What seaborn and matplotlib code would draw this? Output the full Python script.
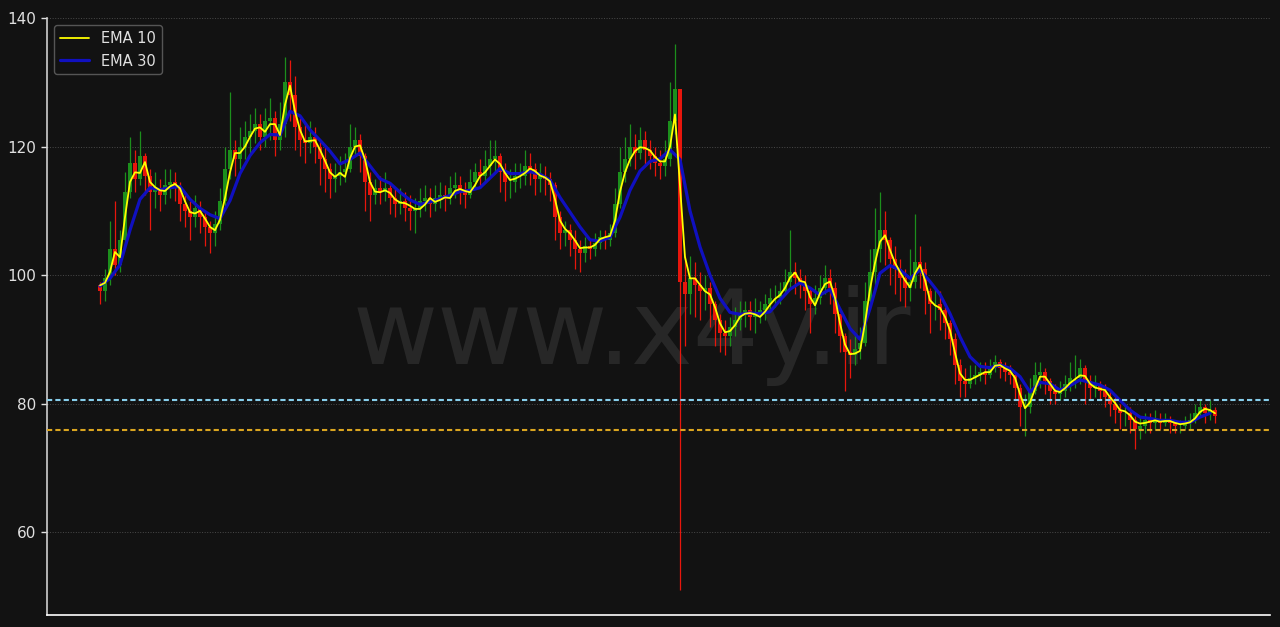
import numpy as np
import pandas as pd
import matplotlib.pyplot as plt
import seaborn as sns

# 1. Data, satu candle tiap langkah indeks
open_awal = 98.5

close = [
    97.5, 99.5, 104.0, 101.5, 105.5, 113.0, 117.5, 115.0, 118.5, 115.5,
    113.0, 113.5, 112.5, 114.0, 114.5, 113.5, 111.0, 110.0, 109.0, 110.5,
    109.0, 107.5, 106.5, 108.0, 111.5, 116.5, 119.5, 118.0, 120.0, 121.5,
    122.5, 123.5, 121.5, 124.0, 124.5, 121.0, 123.5, 130.0, 128.0, 123.0,
    121.0, 120.5, 121.5, 120.0, 118.0, 116.5, 115.0, 115.5, 116.0, 116.5,
    120.0, 121.0, 118.5, 114.5, 112.5, 113.5, 113.0, 113.5, 112.0, 111.0,
    111.5, 110.5, 110.0, 110.5, 111.5, 112.0, 111.0, 112.0, 112.5, 112.0,
    113.5, 114.0, 113.0, 112.5, 114.5, 116.0, 115.5, 117.0, 118.0, 118.5,
    116.0, 114.5, 114.5, 115.5, 115.5, 117.0, 116.5, 115.0, 115.5, 115.0,
    114.0, 109.0, 106.5, 107.0, 105.5, 104.0, 103.5, 104.5, 104.0, 105.0,
    106.0, 105.5, 106.5, 111.0, 116.0, 118.0, 120.0, 119.0, 121.0, 119.5,
    118.5, 117.5, 117.0, 118.0, 124.0, 129.0, 99.0, 97.0, 99.5, 98.5,
    97.5, 98.0, 95.5, 93.0, 91.0, 90.5, 92.0, 93.0, 94.0, 94.5,
    93.5, 94.0, 94.5, 95.5, 96.5, 96.5, 97.5, 99.0, 100.5, 99.5,
    98.5, 97.5, 95.5, 96.5, 98.0, 99.5, 98.0, 94.0, 90.5, 88.0,
    87.5, 88.5, 89.5, 96.0, 100.5, 104.0, 107.0, 105.5, 102.5, 101.0,
    99.5, 98.0, 99.0, 102.0, 101.0, 97.5, 95.5, 95.5, 94.5, 92.5,
    90.0, 86.0, 83.5, 83.0, 84.0, 84.5, 85.0, 84.5, 85.5, 86.5,
    85.5, 85.0, 84.5, 82.5, 79.5, 79.5, 82.0, 84.5, 85.0, 83.5,
    82.0, 81.5, 82.0, 83.0, 84.0, 84.0, 85.5, 83.5, 82.5, 83.0,
    82.0, 81.0, 80.0, 79.0, 78.5, 78.5, 77.5, 76.0, 76.5, 77.5,
    77.0, 77.5, 77.0, 77.5, 77.0, 76.5, 76.5, 77.0, 77.5, 78.5,
    79.5, 78.5, 79.0, 78.0,
]

high = [
    99.0, 101.0, 108.5, 111.5, 107.0, 116.0, 121.5, 119.5, 122.5, 119.0,
    116.5, 116.0, 115.0, 116.5, 116.5, 116.0, 114.5, 112.5, 111.5, 112.5,
    111.5, 110.0, 108.5, 110.0, 113.5, 120.0, 128.5, 121.0, 123.0, 124.0,
    125.0, 126.0, 125.0, 126.0, 127.5, 125.5, 127.0, 134.0, 133.5, 131.0,
    124.5, 123.5, 124.0, 123.0, 121.0, 120.0, 117.5, 117.5, 118.5, 119.0,
    123.5, 123.0, 122.0, 119.0, 116.0, 115.0, 115.5, 116.0, 114.5, 113.5,
    113.5, 113.0, 112.5, 112.0, 113.5, 114.0, 113.5, 114.0, 114.5, 114.0,
    115.5, 116.0, 115.5, 114.5, 116.5, 117.5, 118.0, 119.5, 121.0, 121.0,
    119.0, 117.5, 116.5, 117.5, 117.5, 119.5, 119.0, 117.5, 117.5, 117.0,
    116.0, 114.5, 110.0, 108.5, 108.0, 107.0, 105.5, 106.0, 105.5, 106.5,
    107.0, 107.0, 108.0, 113.5, 120.0, 121.5, 123.5, 122.0, 123.0, 122.5,
    121.0, 120.0, 119.5, 121.0, 130.0, 136.0, 129.0, 103.0, 103.0, 102.0,
    100.5, 100.0, 99.0, 96.0, 94.0, 93.0, 93.5, 95.0, 96.0, 96.0,
    96.0, 96.5, 96.0, 97.0, 98.0, 98.5, 99.0, 101.0, 107.0, 102.0,
    101.0, 100.0, 98.0, 98.5, 100.0, 101.5, 101.0, 99.0, 94.0, 91.0,
    90.0, 91.0, 92.0, 99.0, 104.0, 110.5, 113.0, 110.0, 106.0, 104.5,
    102.5, 101.0, 104.0, 109.5, 104.5, 102.0, 98.0, 98.0, 97.5, 95.0,
    93.0, 91.0, 87.0, 85.5, 86.0, 86.0, 86.5, 86.5, 87.0, 87.5,
    87.0, 86.5, 86.0, 85.0, 83.0, 81.5, 84.0, 86.5, 86.5, 85.5,
    84.0, 83.0, 83.5, 84.5, 86.5, 87.5, 87.0, 86.0, 84.5, 84.5,
    83.5, 83.0, 82.0, 81.0, 80.0, 80.0, 79.5, 78.0, 78.0, 78.5,
    78.5, 79.0, 78.5, 78.5, 78.0, 77.5, 77.5, 78.0, 78.5, 80.0,
    80.5, 80.0, 80.5, 79.5,
]

low = [
    95.5, 96.0, 98.5, 100.0, 100.5, 104.5, 112.0, 113.0, 114.0, 112.5,
    107.0, 110.5, 110.0, 111.0, 112.0, 111.5, 108.5, 107.5, 105.5, 107.5,
    106.5, 104.5, 103.5, 104.5, 107.0, 110.5, 115.0, 115.5, 116.5, 118.0,
    119.0, 120.5, 119.5, 120.0, 121.0, 118.5, 119.5, 121.5, 124.0, 119.5,
    118.5, 117.5, 119.0, 117.5, 114.0, 113.0, 112.0, 113.0, 114.0, 114.5,
    116.0, 118.5, 116.0, 110.0, 108.5, 111.0, 111.0, 111.5, 109.5, 109.0,
    109.5, 108.5, 107.0, 106.5, 109.0, 110.0, 109.0, 110.0, 110.5, 110.0,
    111.0, 112.0, 111.0, 110.5, 112.0, 113.5, 113.5, 114.5, 115.5, 116.0,
    113.0, 111.5, 112.0, 113.0, 113.5, 114.0, 114.0, 112.5, 113.0, 112.5,
    111.5, 105.5, 104.0, 104.5, 103.0, 101.0, 100.5, 102.0, 102.5, 103.0,
    104.0, 104.0, 104.5, 106.0, 110.5, 114.5, 117.0, 116.5, 118.0, 117.0,
    116.5, 115.5, 115.0, 115.5, 117.0, 122.0, 51.0, 89.0, 94.0, 93.5,
    93.0, 94.5, 92.0, 89.0, 88.0, 87.5, 89.0, 90.5, 91.5, 92.0,
    91.5, 91.0, 92.5, 93.0, 94.5, 95.0, 95.5, 97.0, 98.0, 97.0,
    96.5, 94.5, 91.0, 94.0, 95.5, 97.0, 95.5, 91.0, 88.0, 82.0,
    84.0, 86.0, 87.0, 89.0, 95.0, 98.5, 102.0, 101.5, 98.5, 97.0,
    96.0, 95.0, 96.0, 98.0, 98.0, 94.0, 91.0, 93.0, 91.5, 90.0,
    87.5, 83.0, 81.0, 81.0, 82.5, 83.0, 83.5, 83.0, 84.0, 85.0,
    84.0, 83.5, 83.0, 80.5, 76.5, 75.0, 78.5, 81.5, 82.5, 81.5,
    80.0, 80.0, 80.5, 81.0, 82.0, 82.5, 83.0, 80.0, 80.5, 81.0,
    80.5, 79.5, 78.0, 77.0, 76.0, 76.5, 75.5, 73.0, 74.5, 75.5,
    75.5, 76.0, 76.0, 76.5, 75.5, 75.5, 75.5, 76.0, 76.0, 77.0,
    78.0, 77.0, 77.5, 77.0,
]

# EMA 10: satu nilai per candle
ema10 = [
    98.4, 98.8, 100.5, 103.6, 102.8, 109.0, 114.5, 116.0, 115.9, 117.6,
    114.5, 113.7, 113.2, 113.1, 113.8, 114.2, 113.5, 111.5, 109.8, 109.6,
    110.0, 108.8, 107.5, 107.0, 108.6, 112.0, 116.0, 119.0, 119.0, 120.0,
    121.5, 122.8, 123.0, 122.3, 123.5, 123.5, 121.8, 126.5, 129.5, 125.5,
    122.6, 120.8, 120.9, 121.0, 119.5, 117.8, 116.0, 115.3, 115.9, 115.3,
    118.2, 120.0, 120.2, 118.0, 114.5, 113.0, 112.9, 113.2, 112.8, 111.8,
    111.3, 111.2, 110.8, 110.3, 110.3, 111.0, 112.0, 111.4, 111.7, 112.1,
    112.0, 113.1, 113.4, 113.1, 112.9, 114.0, 115.4, 116.0, 117.0, 118.0,
    117.3, 115.9, 114.8, 115.0, 115.4, 115.9, 116.6, 116.2, 115.5, 115.2,
    114.6, 111.8, 108.5, 107.2, 106.5, 105.4, 104.2, 104.3, 104.3, 104.7,
    105.6, 105.9, 106.1, 108.5, 113.0, 116.0, 118.0, 119.3, 119.9, 119.8,
    119.4, 118.4, 117.7, 117.7, 120.0, 125.0, 114.0, 102.8, 99.5, 99.5,
    98.5, 97.5, 97.0, 95.0, 92.5, 91.1, 91.3, 92.2, 93.5, 94.0,
    94.1, 93.9, 93.5, 94.3, 95.4, 96.3, 96.9, 98.0, 99.6, 100.4,
    99.1, 98.9, 96.6, 95.3, 97.2, 98.6, 99.0, 96.5, 92.5, 89.2,
    87.7, 87.8, 88.2, 92.5, 97.8, 101.9, 105.2, 106.2, 103.9, 101.9,
    100.5, 99.2, 98.1, 100.3, 101.6, 99.2, 96.1, 95.3, 94.9, 93.5,
    91.4, 87.9, 84.7, 83.7, 83.7, 84.1, 84.5, 84.9, 84.9, 85.9,
    86.0, 85.5, 85.1, 84.0, 81.5, 79.3, 80.2, 82.3, 84.2, 84.2,
    83.1, 82.0, 81.8, 82.4, 83.2, 83.8, 84.4, 84.3, 83.1, 82.5,
    82.3, 82.1, 81.0, 80.1, 79.0, 78.8, 78.2, 77.2, 76.9, 77.0,
    77.2, 77.4, 77.2, 77.3, 77.3, 77.0, 76.8, 76.9, 77.1, 77.7,
    78.7, 79.2, 79.0, 78.5,
]

# EMA 30: satu nilai tiap dua candle
ema30 = [
    98.3, 99.5, 101.6, 107.0, 111.8, 113.6, 113.3, 113.6, 113.8, 111.8,
    110.4, 109.4, 108.8, 111.6, 115.8, 118.6, 120.6, 121.9, 121.8, 125.5,
    124.8, 122.6, 121.0, 119.3, 117.3, 118.0, 119.0, 117.0, 115.0, 114.3,
    112.9, 111.7, 111.0, 111.4, 111.9, 112.4, 113.0, 113.2, 113.6, 115.1,
    116.6, 115.8, 115.8, 116.1, 115.7, 114.8, 112.1, 109.8, 107.5, 105.5,
    105.3, 105.9, 109.0, 113.2, 116.2, 117.7, 118.1, 119.5, 118.0, 110.0,
    104.4, 100.0, 96.4, 94.2, 93.9, 94.1, 94.0, 94.3, 96.1, 97.8,
    98.8, 98.0, 96.9, 97.8, 94.7, 91.7, 90.0, 94.8, 100.3, 101.5,
    100.8, 99.5, 100.8, 99.0, 97.0, 94.0, 90.4, 87.3, 85.8, 85.6,
    86.0, 85.5, 84.2, 81.8, 83.3, 83.1, 82.1, 82.8, 83.7, 83.3,
    82.9, 82.1, 80.5, 79.0, 77.9, 77.7, 77.4, 77.4, 77.1, 77.1,
    77.9, 78.5,
]

level_biru = 80.55
level_emas = 75.85
y_ticks = [60, 80, 100, 120, 140]
watermark = "www.x4y.ir"

BG = '#121212'


# 2. Susun DataFrame candle
def buat_dataframe():
    df = pd.DataFrame({'close': close, 'high': high, 'low': low})
    df['open'] = [open_awal] + close[:-1]
    df['idx'] = np.arange(len(df))
    df['naik'] = df['close'] >= df['open']
    return df


# 3. Gambar chart
def gambar(df):
    sns.set_theme(style='dark', rc={'axes.facecolor': BG, 'figure.facecolor': BG})
    plt.rcParams['font.family'] = ['DejaVu Sans']

    fig = plt.figure(figsize=(12.8, 6.27), dpi=100)
    ax = fig.add_axes([0.0367, 0.0191, 0.9555, 0.952])
    ax.set_facecolor(BG)

    ax.text(0.478, 0.469, watermark, transform=ax.transAxes, ha='center', va='center',
            fontsize=75, color='white', alpha=0.09, zorder=1)

    warna = np.where(df['naik'], '#1c8f1c', '#e8160c')
    ax.vlines(df['idx'], df['low'], df['high'], colors=warna, linewidth=0.9, zorder=2)
    ax.bar(df['idx'], (df['close'] - df['open']).abs(),
           bottom=df[['open', 'close']].min(axis=1), width=0.7,
           color=warna, linewidth=0, zorder=2)

    sns.lineplot(x=df['idx'], y=ema10, color='yellow', linewidth=1.3,
                 label='EMA 10', ax=ax, zorder=4)
    sns.lineplot(x=np.arange(0, len(close), 2), y=ema30, color='#1010c0',
                 linewidth=2.3, label='EMA 30', ax=ax, zorder=3)

    ax.axhline(level_biru, color='skyblue', linestyle=(0, (2.5, 1.5)), linewidth=1.5, zorder=3)
    ax.axhline(level_emas, color='goldenrod', linestyle=(0, (2.5, 1.5)), linewidth=1.5, zorder=3)

    ax.set_xlim(-10.6, 234)
    ax.set_ylim(47.1, 140)
    ax.set_xticks([])
    ax.set_yticks(y_ticks)
    ax.set_xlabel('')
    ax.set_ylabel('')
    ax.yaxis.grid(True, color='#4a4a4a', linestyle=':', linewidth=0.7)
    ax.xaxis.grid(False)
    ax.tick_params(axis='y', colors='#e0e0e0', labelsize=11, left=True, length=4, width=1)

    for s in ['top', 'right']:
        ax.spines[s].set_visible(False)
    ax.spines['left'].set_color('#cfcfcf')
    ax.spines['bottom'].set_color('white')
    ax.spines['left'].set_linewidth(1.2)
    ax.spines['bottom'].set_linewidth(1.2)

    ax.legend(loc='upper left', fontsize=10.5, facecolor=BG, edgecolor='#555555',
              labelcolor='#e0e0e0', framealpha=1)

    fig.savefig('out.png', dpi=100, facecolor=BG)


def main():
    df = buat_dataframe()
    gambar(df)


if __name__ == "__main__":
    main()
